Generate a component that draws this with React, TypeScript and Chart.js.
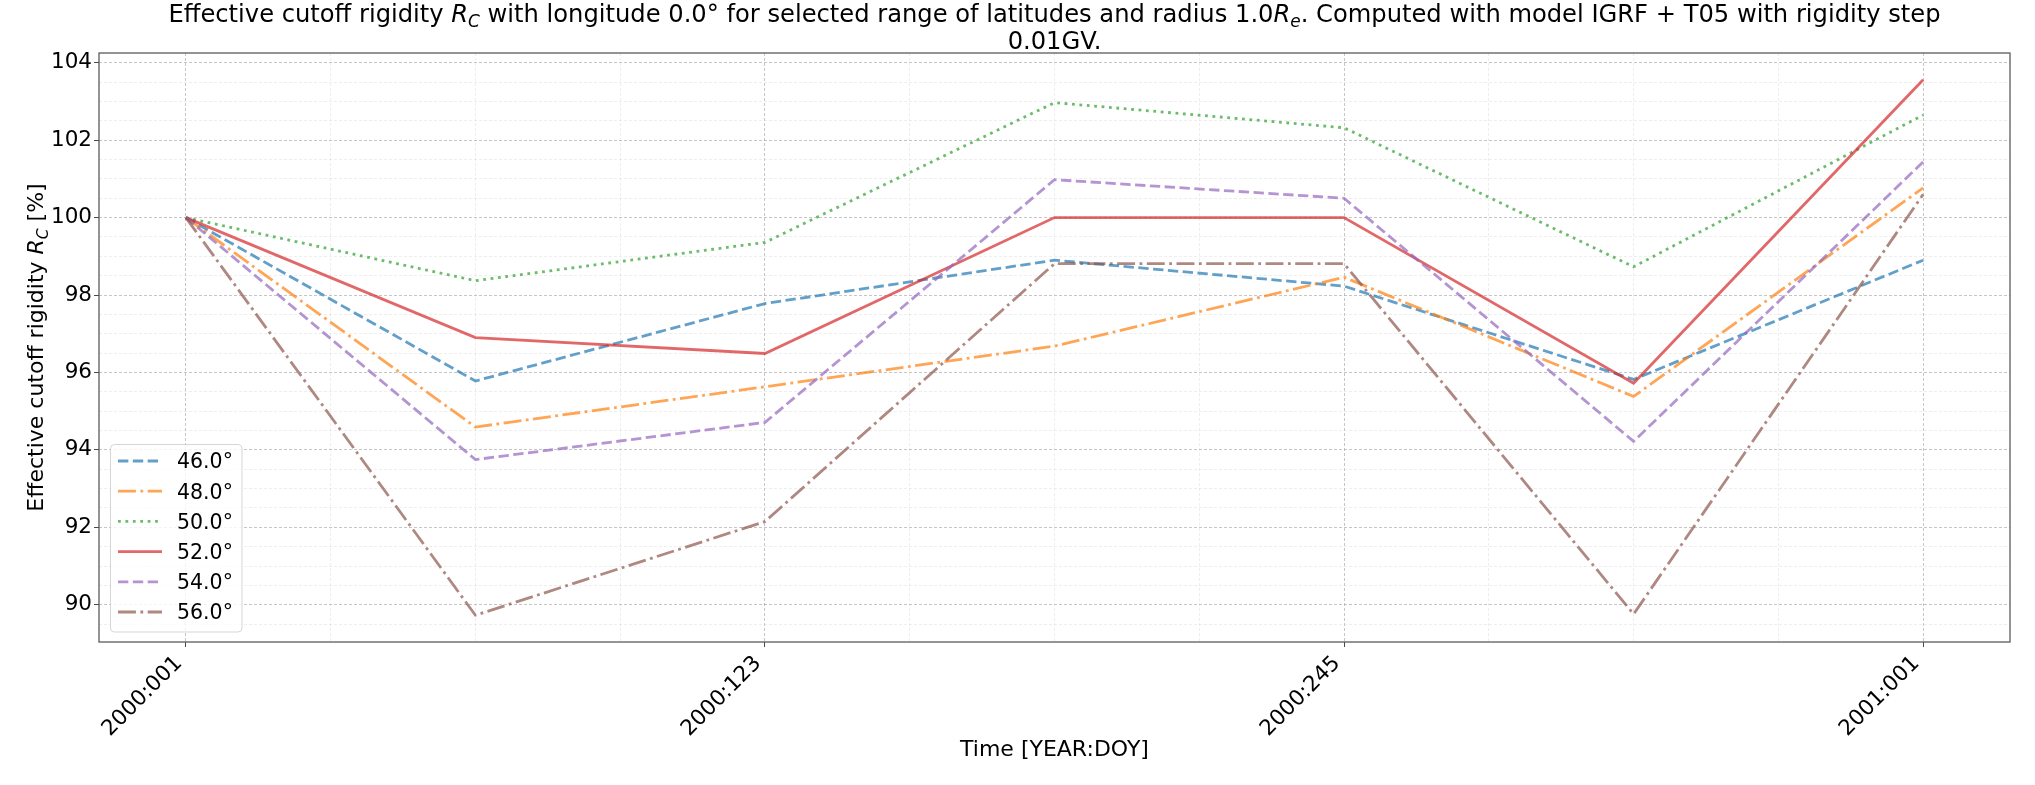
import React, { useEffect, useRef } from 'react';
import { Chart, registerables } from 'chart.js';

Chart.register(...registerables);

// ---- data ----
const dayOffsets = [0, 61, 122, 183, 244, 305, 366];
const latitudeLabels = ['46.0°', '48.0°', '50.0°', '52.0°', '54.0°', '56.0°'];
const lat46 = [100, 95.78, 97.78, 98.9, 98.23, 95.82, 98.9];
const lat48 = [100, 94.59, 95.63, 96.68, 98.46, 95.38, 100.77];
const lat50 = [100, 98.37, 99.36, 102.97, 102.32, 98.73, 102.65];
const lat52 = [100, 96.9, 96.49, 100.0, 100.0, 95.72, 103.56];
const lat54 = [100, 93.75, 94.71, 100.98, 100.5, 94.22, 101.44];
const lat56 = [100, 89.73, 92.15, 98.81, 98.81, 89.76, 100.6];
const xTickValues = [0, 122, 244, 366];
const xTickLabels = ['2000:001', '2000:123', '2000:245', '2001:001'];
const yTickValues = [90, 92, 94, 96, 98, 100, 102, 104];

// ---- styles ----
const FONT = '"DejaVu Sans", sans-serif';
const TICK_SIZE = 21.5;
const LW = 2.8;
const colors = [
  'rgba(31,119,180,0.7)',
  'rgba(255,127,14,0.7)',
  'rgba(44,160,44,0.7)',
  'rgba(214,39,40,0.7)',
  'rgba(148,103,189,0.7)',
  'rgba(140,86,75,0.7)',
];
const DASHED = [3.7 * LW, 1.6 * LW];
const DASHDOT = [6.4 * LW, 1.6 * LW, 1 * LW, 1.6 * LW];
const DOTTED = [1 * LW, 1.65 * LW];
const dashes = [DASHED, DASHDOT, DOTTED, [], DASHED, DASHDOT];

const MAJOR_GRID = 'rgba(170,170,170,0.75)';
const MINOR_GRID = 'rgba(200,200,200,0.45)';

type Seg = [string, 'n' | 'i' | 's'];

function segFont(k: string, size: number) {
  if (k === 'n') return `${size}px ${FONT}`;
  if (k === 'i') return `italic ${size}px ${FONT}`;
  return `italic ${size * 0.7}px ${FONT}`;
}
function measureSegs(ctx: CanvasRenderingContext2D, segs: Seg[], size: number) {
  let w = 0;
  for (const [t, k] of segs) {
    ctx.font = segFont(k, size);
    w += ctx.measureText(t).width;
  }
  return w;
}
function drawSegs(ctx: CanvasRenderingContext2D, segs: Seg[], x: number, y: number, size: number) {
  ctx.textAlign = 'left';
  ctx.textBaseline = 'alphabetic';
  let cx = x;
  for (const [t, k] of segs) {
    ctx.font = segFont(k, size);
    ctx.fillText(t, cx, k === 's' ? y + size * 0.22 : y);
    cx += ctx.measureText(t).width;
  }
}

const titleLine1: Seg[] = [
  ['Effective cutoff rigidity ', 'n'],
  ['R', 'i'],
  ['C', 's'],
  [' with longitude 0.0° for selected range of latitudes and radius 1.0', 'n'],
  ['R', 'i'],
  ['e', 's'],
  ['. Computed with model IGRF + T05 with rigidity step', 'n'],
];
const titleLine2: Seg[] = [['0.01GV.', 'n']];
const yTitle: Seg[] = [
  ['Effective cutoff rigidity ', 'n'],
  ['R', 'i'],
  ['C', 's'],
  [' [%]', 'n'],
];
const xTitle: Seg[] = [['Time [YEAR:DOY]', 'n']];

export default function App() {
  const ref = useRef<HTMLCanvasElement>(null);

  useEffect(() => {
    const canvas = ref.current!;
    const series = [lat46, lat48, lat50, lat52, lat54, lat56];

    const allVals = series.flat();
    const dMin = Math.min(...allVals);
    const dMax = Math.max(...allVals);
    const yMargin = (dMax - dMin) * 0.05;
    const yMin = dMin - yMargin;
    const yMax = dMax + yMargin;
    const xSpan = dayOffsets[dayOffsets.length - 1] - dayOffsets[0];
    const xMin = dayOffsets[0] - xSpan * 0.05;
    const xMax = dayOffsets[dayOffsets.length - 1] + xSpan * 0.05;

    // minor ticks: quarter of major spacing
    const xAll: number[] = [];
    for (let i = 0; i < xTickValues.length; i++) {
      xAll.push(xTickValues[i]);
      if (i < xTickValues.length - 1) {
        const step = (xTickValues[i + 1] - xTickValues[i]) / 4;
        for (let k = 1; k < 4; k++) xAll.push(xTickValues[i] + step * k);
      }
    }
    const yStep = (yTickValues[1] - yTickValues[0]) / 4;
    const yAll: number[] = [];
    for (let v = yTickValues[0] - Math.floor((yTickValues[0] - yMin) / yStep) * yStep; v <= yMax + 1e-9; v += yStep) {
      yAll.push(Math.round(v * 1000) / 1000);
    }

    const isMajorX = (v: number) => xTickValues.includes(v);
    const isMajorY = (v: number) => yTickValues.includes(v);

    const datasets = series.map((vals, i) => ({
      label: latitudeLabels[i],
      data: vals.map((v, j) => ({ x: dayOffsets[j], y: v })),
      borderColor: colors[i],
      backgroundColor: colors[i],
      borderWidth: LW,
      borderDash: dashes[i],
      pointRadius: 0,
      fill: false,
      tension: 0,
      order: series.length - 1 - i,
    }));

    const decor = {
      id: 'decor',
      afterDraw(chart: any) {
        const ctx: CanvasRenderingContext2D = chart.ctx;
        const a = chart.chartArea;
        ctx.save();
        // spines
        ctx.strokeStyle = '#555';
        ctx.lineWidth = 1.25;
        ctx.setLineDash([]);
        ctx.strokeRect(a.left, a.top, a.right - a.left, a.bottom - a.top);

        ctx.fillStyle = '#000';
        const cx = (a.left + a.right) / 2;
        // title
        const ts = 24.2;
        const w1 = measureSegs(ctx, titleLine1, ts);
        drawSegs(ctx, titleLine1, cx - w1 / 2, 21.5, ts);
        const w2 = measureSegs(ctx, titleLine2, ts);
        drawSegs(ctx, titleLine2, cx - w2 / 2, 49, ts);

        // x tick labels (rotated 45°, right-aligned at tick)
        const xs = chart.scales.x;
        ctx.font = `${TICK_SIZE}px ${FONT}`;
        ctx.fillStyle = '#000';
        xTickValues.forEach((v, i) => {
          const px = xs.getPixelForValue(v);
          ctx.save();
          ctx.translate(px - 3, a.bottom + 22);
          ctx.rotate(-Math.PI / 4);
          ctx.textAlign = 'right';
          ctx.textBaseline = 'alphabetic';
          ctx.fillText(xTickLabels[i], 0, 0);
          ctx.restore();
        });

        // x title
        const ls = 22;
        const wx = measureSegs(ctx, xTitle, ls);
        drawSegs(ctx, xTitle, cx - wx / 2, 756, ls);

        // y title
        const cy = (a.top + a.bottom) / 2;
        const wy = measureSegs(ctx, yTitle, ls);
        ctx.save();
        ctx.translate(43, cy);
        ctx.rotate(-Math.PI / 2);
        drawSegs(ctx, yTitle, -wy / 2, 0, ls);
        ctx.restore();

        // legend
        const bx = 110.5, by = 444.5, bw = 131.5, bh = 187.5, r = 4;
        ctx.beginPath();
        ctx.moveTo(bx + r, by);
        ctx.arcTo(bx + bw, by, bx + bw, by + bh, r);
        ctx.arcTo(bx + bw, by + bh, bx, by + bh, r);
        ctx.arcTo(bx, by + bh, bx, by, r);
        ctx.arcTo(bx, by, bx + bw, by, r);
        ctx.closePath();
        ctx.fillStyle = 'rgba(255,255,255,0.8)';
        ctx.fill();
        ctx.strokeStyle = 'rgba(204,204,204,0.8)';
        ctx.lineWidth = 1;
        ctx.stroke();

        ctx.font = `20.5px ${FONT}`;
        ctx.textAlign = 'left';
        ctx.textBaseline = 'alphabetic';
        latitudeLabels.forEach((lab, i) => {
          const yc = 461 + 30.2 * i;
          ctx.strokeStyle = colors[i];
          ctx.lineWidth = LW;
          ctx.setLineDash(dashes[i]);
          ctx.beginPath();
          ctx.moveTo(118, yc);
          ctx.lineTo(162, yc);
          ctx.stroke();
          ctx.setLineDash([]);
          ctx.fillStyle = '#000';
          ctx.fillText(lab, 177, yc + 7.4);
        });
        ctx.restore();
      },
    };

    const chart = new Chart(canvas, {
      type: 'line',
      data: { datasets },
      plugins: [decor],
      options: {
        responsive: false,
        animation: false,
        devicePixelRatio: 1,
        layout: { padding: { top: 53, right: 25, left: 0, bottom: 0 } },
        plugins: {
          legend: { display: false },
          title: { display: false },
          tooltip: { enabled: false },
        },
        scales: {
          x: {
            type: 'linear',
            min: xMin,
            max: xMax,
            afterBuildTicks: (s: any) => {
              s.ticks = xAll.map((v) => ({ value: v }));
            },
            afterFit: (s: any) => {
              s.height = 143;
            },
            ticks: {
              display: false,
              autoSkip: false,
            },
            grid: {
              color: (c: any) => (isMajorX(c.tick?.value) ? MAJOR_GRID : MINOR_GRID),
              lineWidth: (c: any) => (isMajorX(c.tick?.value) ? 0.9 : 0.7),
              tickColor: (c: any) => (isMajorX(c.tick?.value) ? '#333' : 'rgba(0,0,0,0)'),
              tickLength: 5,
              drawTicks: true,
            },
            border: { display: false, dash: [3, 2] },
          },
          y: {
            type: 'linear',
            min: yMin,
            max: yMax,
            afterBuildTicks: (s: any) => {
              s.ticks = yAll.map((v) => ({ value: v }));
            },
            afterFit: (s: any) => {
              s.width = 99;
            },
            ticks: {
              autoSkip: false,
              padding: 2,
              color: '#000',
              font: { family: FONT, size: TICK_SIZE },
              callback: (v: any) => (isMajorY(Number(v)) ? String(v) : ''),
            },
            grid: {
              color: (c: any) => (isMajorY(c.tick?.value) ? MAJOR_GRID : MINOR_GRID),
              lineWidth: (c: any) => (isMajorY(c.tick?.value) ? 0.9 : 0.7),
              tickColor: (c: any) => (isMajorY(c.tick?.value) ? '#333' : 'rgba(0,0,0,0)'),
              tickLength: 5,
              drawTicks: true,
            },
            border: { display: false, dash: [3, 2] },
          },
        },
      } as any,
    });

    return () => chart.destroy();
  }, []);

  return (
    <div style={{ position: 'absolute', left: 0, top: 0, width: 2035, height: 785, background: '#fff' }}>
      <canvas ref={ref} width={2035} height={785} style={{ display: 'block' }} />
    </div>
  );
}
